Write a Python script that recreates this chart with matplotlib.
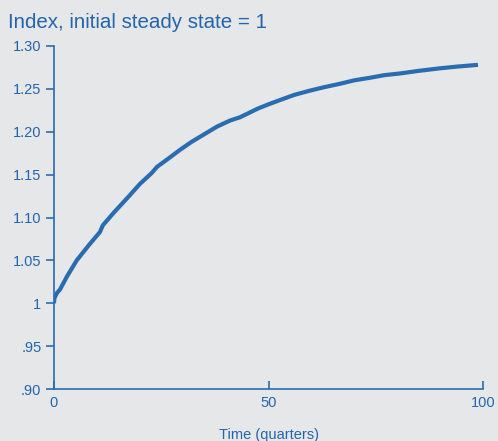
import matplotlib

matplotlib.use("Agg")
import matplotlib.pyplot as plt

# Values
quarters = [0, 0.1, 0.7, 1.4, 3.0, 5.3, 8.0, 10.7, 11.4, 14.0, 17.5, 20.0, 22.8,
            24.0, 27.0, 29.4, 32.0, 35.0, 38.0, 41.0, 43.4, 47.5, 50.0, 52.7,
            56.0, 59.7, 63.0, 66.7, 70.0, 73.7, 77.0, 80.7, 85.0, 90.0, 94.0, 98.8]
index = [1.000, 1.006, 1.012, 1.016, 1.031, 1.050, 1.067, 1.083, 1.091, 1.106,
         1.125, 1.139, 1.152, 1.159, 1.170, 1.179, 1.188, 1.197, 1.206, 1.213,
         1.217, 1.227, 1.232, 1.237, 1.243, 1.248, 1.252, 1.256, 1.260, 1.263,
         1.266, 1.268, 1.271, 1.274, 1.276, 1.278]

yticks = [0.90, 0.95, 1.00, 1.05, 1.10, 1.15, 1.20, 1.25, 1.30]
ytick_labels = [".90", ".95", "1", "1.05", "1.10", "1.15", "1.20", "1.25", "1.30"]
xticks = [0, 50, 100]

bg = "#e6e7e9"
blue_text = "#2265ad"
blue_line = "#2a6cb0"

plt.rcParams["font.family"] = ["Liberation Sans", "DejaVu Sans"]

fig = plt.figure(figsize=(4.98, 4.41), dpi=100, facecolor=bg)
ax = fig.add_axes([0.1084, 0.1179, 0.8616, 0.7778], facecolor=bg)

ax.plot(quarters, index, color=blue_line, linewidth=3.0, solid_capstyle="butt")

ax.set_xlim(0, 100)
ax.set_ylim(0.90, 1.30)
ax.set_xticks(xticks)
ax.set_yticks(yticks)
ax.set_yticklabels(ytick_labels)

for side in ["top", "right"]:
    ax.spines[side].set_visible(False)
for side in ["left", "bottom"]:
    ax.spines[side].set_color(blue_line)
    ax.spines[side].set_linewidth(1.2)

ax.tick_params(axis="y", direction="out", length=6, width=1.2, colors=blue_line,
               labelcolor=blue_text, labelsize=10.5, pad=3)
ax.tick_params(axis="x", direction="in", length=6, width=1.2, colors=blue_line,
               labelcolor=blue_text, labelsize=10.5, pad=5)

ax.set_xlabel("Time (quarters)", color=blue_text, fontsize=10.5, labelpad=13)
fig.text(8 / 498, 1 - 28 / 441, "Index, initial steady state = 1",
         color=blue_text, fontsize=14.8, ha="left", va="baseline")

plt.savefig("out.png", dpi=100, facecolor=bg)
plt.close()
